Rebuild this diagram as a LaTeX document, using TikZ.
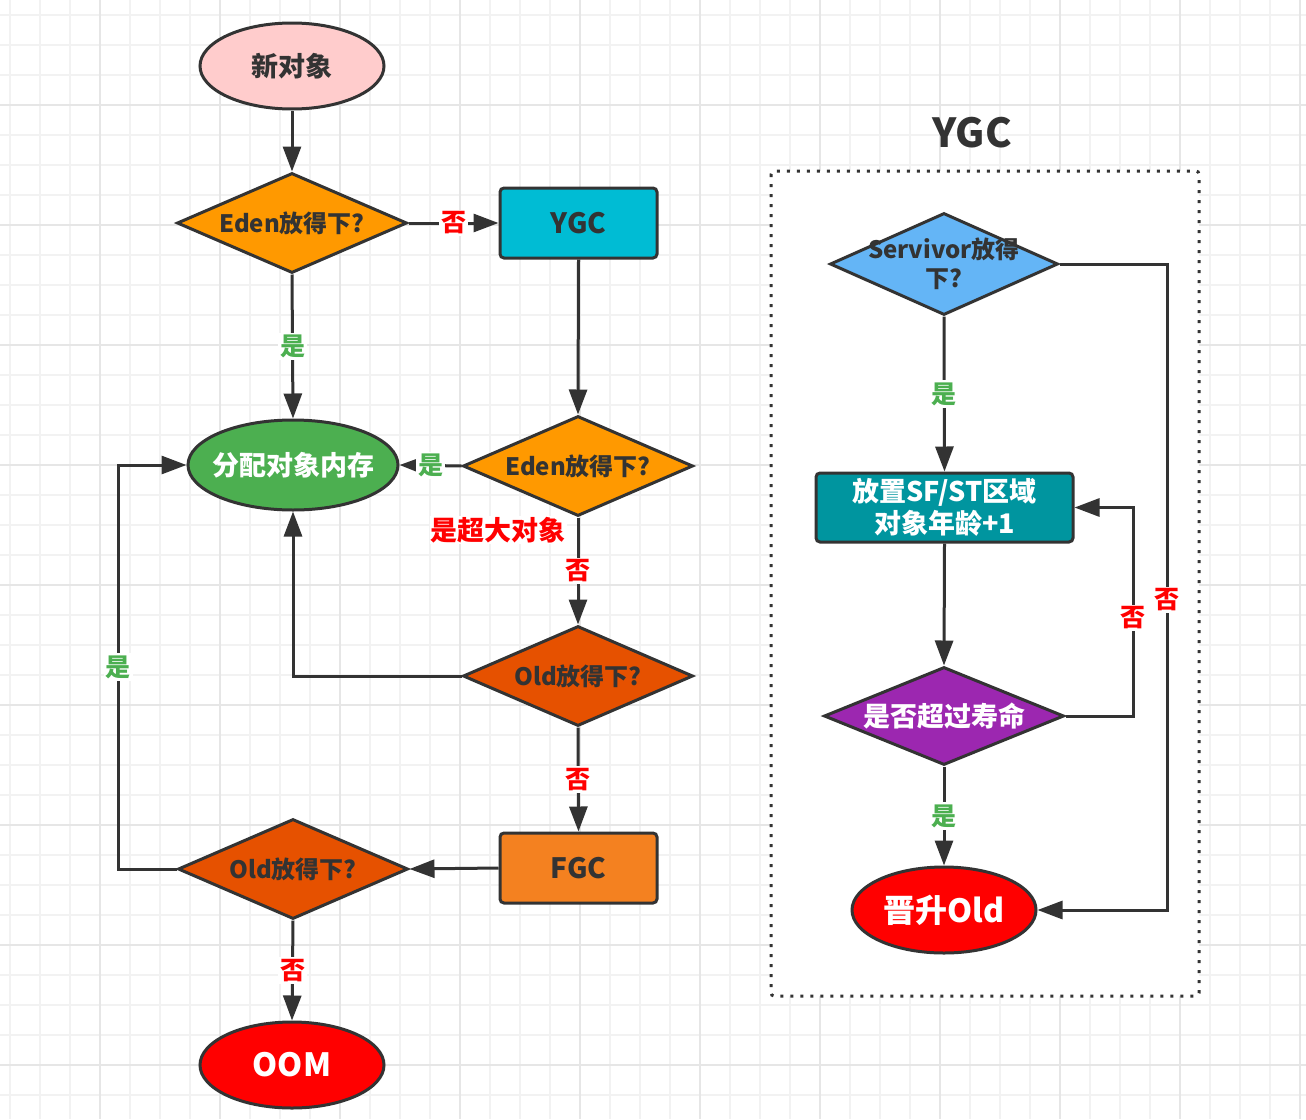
\documentclass[tikz,border=0pt]{standalone}
\usepackage{fontspec}
\setmainfont{Noto Sans CJK SC}
\usetikzlibrary{shapes.geometric,arrows.meta}
\definecolor{ink}{HTML}{333333}
\definecolor{cpink}{HTML}{FFCCCC}
\definecolor{corange}{HTML}{FF9900}
\definecolor{ccyan}{HTML}{00BCD4}
\definecolor{cgreen}{HTML}{4CAF50}
\definecolor{cdorange}{HTML}{E65100}
\definecolor{cfgc}{HTML}{F48120}
\definecolor{cblue}{HTML}{64B5F6}
\definecolor{cteal}{HTML}{00959F}
\definecolor{cpurple}{HTML}{9C27B0}
\definecolor{cred}{HTML}{FF0000}
\definecolor{lgreen}{HTML}{4CAF50}
\definecolor{gminor}{HTML}{F2F2F2}
\definecolor{gmajor}{HTML}{E6E6E6}
\tikzset{
  fs/.style={font=\fontsize{#1}{\dimexpr #1pt*6/5\relax}\selectfont\bfseries},
  base/.style={draw=ink, line width=3pt, inner sep=0pt},
  ell/.style={base, ellipse, minimum width=184pt, minimum height=86pt},
  dia/.style={base, diamond, minimum width=230pt, minimum height=100pt},
  box/.style={base, rectangle, rounded corners=4pt, minimum width=157pt, minimum height=70pt},
  arr/.style={draw=ink, line width=3pt, -{Triangle[length=25pt,width=18pt]}},
  lbl/.style={fill=white, inner sep=2pt, fs=25},
  yes/.style={lbl, text=lgreen},
  no/.style={lbl, text=cred},
}
\begin{document}
\begin{tikzpicture}[x=1pt,y=-1pt]
\useasboundingbox (0,0) rectangle (1306,1119);
\fill[white] (0,0) rectangle (1306,1119);
% grid
\foreach \i in {0,...,43} {\draw[gminor, line width=2pt] (10+30*\i,0) -- (10+30*\i,1119);}
\foreach \i in {0,...,36} {\draw[gminor, line width=2pt] (0,15+30*\i) -- (1306,15+30*\i);}
\foreach \i in {0,...,10} {\draw[gmajor, line width=2pt] (100+120*\i,0) -- (100+120*\i,1119);}
\foreach \i in {0,...,8} {\draw[gmajor, line width=2pt] (0,105+120*\i) -- (1306,105+120*\i);}
% YGC container
\draw[ink, fill=white, line width=3pt, dash pattern=on 3pt off 7pt, rounded corners=3pt] (771,171) rectangle (1199,996);
\node[text=ink, fs=40] (title) at (972,133) {YGC};

% left flow
\node[ell, fill=cpink, text=ink, fs=27] (new) at (292,66) {新对象};
\node[dia, fill=corange, label={[text=ink, fs=24]center:Eden放得下?}] (d1) at (292,223) {};
\node[box, fill=ccyan, text=ink, fs=28] (ygc) at (578.5,223) {YGC};
\node[ell, fill=cgreen, minimum width=210pt, minimum height=90pt, label={[text=white, fs=27]center:分配对象内存}] (alloc) at (293,465) {};
\node[dia, fill=corange, label={[text=ink, fs=24]center:Eden放得下?}] (d2) at (578,466) {};
\node[text=cred, fill=white, inner sep=1pt, fs=27] (big) at (498,530) {是超大对象};
\node[dia, fill=cdorange, label={[text=ink, fs=24]center:Old放得下?}] (d3) at (578,676) {};
\node[box, fill=cfgc, text=ink, fs=28] (fgc) at (578.5,868) {FGC};
\node[dia, fill=cdorange, label={[text=ink, fs=24]center:Old放得下?}] (d4) at (293,869) {};
\node[ell, fill=cred, text=white, fs=32] (oom) at (292,1065) {OOM};

\coordinate (k1) at (118,0);
\draw[arr] (new) -- (d1);
\draw[arr] (d1.east) -- node[no]{否} (ygc.west);
\draw[arr] (d1.south) -- node[yes]{是} (alloc.north);
\draw[arr] (ygc.south) -- (d2.north);
\draw[arr] (d2.west) -- node[yes]{是} (alloc.east);
\draw[arr] (d2.south) -- node[no, pos=0.5]{否} (d3.north);
\draw[arr] (d3.west) -| (alloc.south);
\draw[arr] (d3.south) -- node[no]{否} (fgc.north);
\draw[arr] (fgc.west) -- (d4.east);
\draw[arr] (d4.west) -- (d4.west -| k1) -- node[yes]{是} (alloc.west -| k1) -- (alloc.west);
\draw[arr] (d4.south) -- node[no]{否} (oom.north);

% right flow
\node[dia, fill=cblue, minimum width=228pt, minimum height=102pt, label={[text=ink, fs=24, align=center]center:Servivor放得\\下?}] (sv) at (944,264) {};
\node[box, fill=cteal, text=white, fs=27, align=center, minimum width=257pt, minimum height=69pt] (sf) at (944.5,507.5) {放置SF/ST区域\\对象年龄+1};
\node[dia, fill=cpurple, minimum width=240pt, minimum height=98pt, label={[text=white, fs=27]center:是否超过寿命}] (d5) at (944,716) {};
\node[ell, fill=cred, text=white, fs=32] (jin) at (944,910) {晋升Old};

\coordinate (k2) at (1133,0);
\coordinate (k3) at (1167,0);
\draw[arr] (sv.south) -- node[yes]{是} (sf.north);
\draw[arr] (sf.south) -- (d5.north);
\draw[arr] (d5.east) -- (d5.east -| k2) -- node[no, pos=0.47]{否} (sf.east -| k2) -- (sf.east);
\draw[arr] (d5.south) -- node[yes]{是} (jin.north);
\draw[arr] (sv.east) -- (sv.east -| k3) -- node[no, pos=0.52]{否} (jin.east -| k3) -- (jin.east);
\end{tikzpicture}
\end{document}
